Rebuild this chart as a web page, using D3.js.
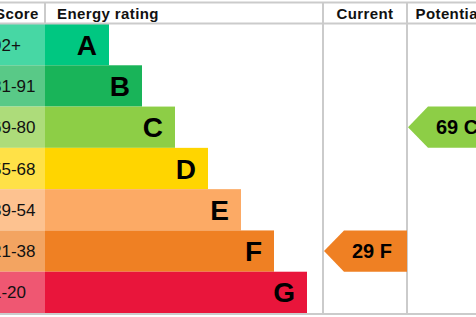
<!DOCTYPE html>
<html lang="en">
<head>
<meta charset="UTF-8">
<title>Energy rating</title>
<script src="https://d3js.org/d3.v7.min.js"></script>
<style>
  body { margin: 0; background: #fff; }
  svg { display: block; font-family: "Liberation Sans", Arial, sans-serif; }
  .grid { stroke: #cbcbcb; stroke-width: 2; }
  .head { font-size: 15px; font-weight: bold; fill: #111; letter-spacing: 0.4px; }
</style>
</head>
<body>
<svg width="476" height="317"></svg>
<script>
// bands, top to bottom
const ratings = ['A', 'B', 'C', 'D', 'E', 'F', 'G'];
const scoreRanges = ['92+', '81-91', '69-80', '55-68', '39-54', '21-38', '1-20'];
const barSteps = [1, 2, 3, 4, 5, 6, 7];
const colors = ['#00c781', '#19b459', '#8dce46', '#ffd500', '#fcaa65', '#ef8023', '#e9153b'];

const currentScore = 29, currentRating = 'F';
const potentialScore = 69, potentialRating = 'C';

const svg = d3.select('svg');

const rowsTop = 24, rowsBottom = 313;
const scoreX = -9, barX = 45;
const colCurrent = [323, 407], colPotential = [407, 491];

const y = d3.scaleBand().domain(ratings).range([rowsTop, rowsBottom]).padding(0);
const x = d3.scaleLinear().domain([0, 7]).range([76, 307]);
const color = d3.scaleOrdinal().domain(ratings).range(colors);

const rows = ratings.map((r, i) => ({ rating: r, range: scoreRanges[i], step: barSteps[i] }));

// score column background (lighter tint)
svg.selectAll('.scorebg')
  .data(rows)
  .enter().append('rect')
  .attr('x', scoreX)
  .attr('y', d => y(d.rating))
  .attr('width', barX - scoreX)
  .attr('height', y.bandwidth())
  .attr('fill', d => d3.interpolateRgb(color(d.rating), '#fff')(0.28));

svg.selectAll('.scoretxt')
  .data(rows)
  .enter().append('text')
  .attr('x', -8)
  .attr('y', d => y(d.rating) + y.bandwidth() / 2 + 6)
  .style('font-size', '17px')
  .attr('fill', '#111')
  .text(d => d.range);

// bars
svg.selectAll('.bar')
  .data(rows)
  .enter().append('rect')
  .attr('x', barX)
  .attr('y', d => y(d.rating))
  .attr('width', d => x(d.step) - barX)
  .attr('height', y.bandwidth())
  .attr('fill', d => color(d.rating));

svg.selectAll('.letter')
  .data(rows)
  .enter().append('text')
  .attr('x', d => x(d.step) - 12)
  .attr('y', d => y(d.rating) + y.bandwidth() / 2 + 10)
  .attr('text-anchor', 'end')
  .style('font-size', '28px')
  .style('font-weight', 'bold')
  .attr('fill', '#000')
  .text(d => d.rating);

// grid lines
svg.append('line').attr('class', 'grid').attr('x1', -10).attr('x2', 500).attr('y1', 2.5).attr('y2', 2.5);
svg.append('line').attr('class', 'grid').attr('x1', -10).attr('x2', 500).attr('y1', 23.5).attr('y2', 23.5);
svg.append('line').attr('class', 'grid').attr('x1', -10).attr('x2', 500).attr('y1', 314).attr('y2', 314);
svg.append('line').attr('class', 'grid').attr('x1', barX).attr('x2', barX).attr('y1', 2).attr('y2', 23);
[colCurrent[0], colCurrent[1], colPotential[1]].forEach(cx => {
  svg.append('line').attr('class', 'grid').attr('x1', cx).attr('x2', cx).attr('y1', 2).attr('y2', 315);
});

// headers
svg.append('text').attr('class', 'head').attr('x', -5).attr('y', 19).text('Score');
svg.append('text').attr('class', 'head').attr('x', barX + 12).attr('y', 19).text('Energy rating');
svg.append('text').attr('class', 'head').attr('x', (colCurrent[0] + colCurrent[1]) / 2).attr('y', 19)
  .attr('text-anchor', 'middle').text('Current');
svg.append('text').attr('class', 'head').attr('x', (colPotential[0] + colPotential[1]) / 2).attr('y', 19)
  .attr('text-anchor', 'middle').text('Potential');

// indicator arrows
function arrow(col, score, rating) {
  const y0 = y(rating), h = y.bandwidth();
  const x0 = col[0] + 1, x1 = col[1];
  const pts = [[x0, y0 + h / 2], [x0 + 20, y0], [x1, y0], [x1, y0 + h], [x0 + 20, y0 + h]];
  svg.append('path')
    .attr('d', d3.line()(pts) + 'Z')
    .attr('fill', color(rating));
  svg.append('text')
    .attr('x', x0 + 28)
    .attr('y', y0 + h / 2 + 7)
    .style('font-size', '20px')
    .style('font-weight', 'bold')
    .attr('fill', '#000')
    .text(score + ' ' + rating);
}
arrow(colCurrent, currentScore, currentRating);
arrow(colPotential, potentialScore, potentialRating);
</script>
</body>
</html>
